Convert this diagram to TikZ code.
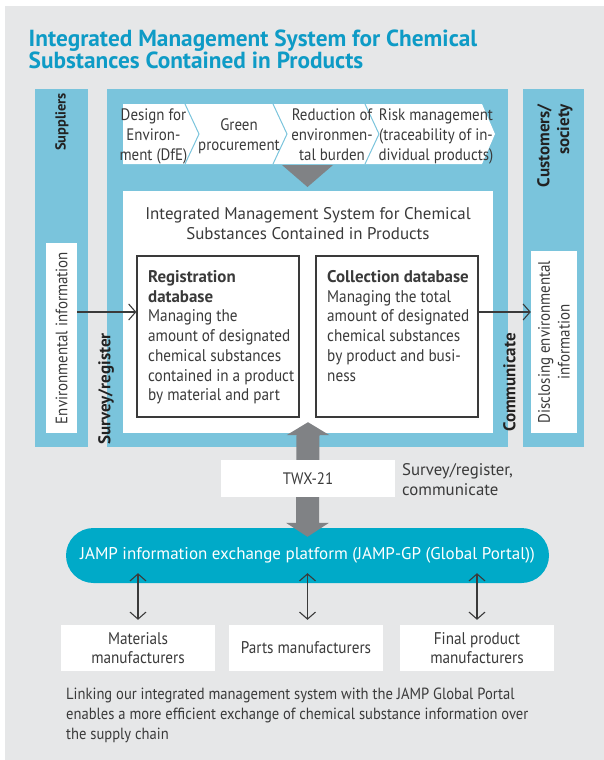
\documentclass[tikz,border=0pt]{standalone}
\usepackage{fontspec}
\setmainfont{PT Sans}[FakeStretch=0.9]
\newfontfamily\widefont{PT Sans}
\usetikzlibrary{arrows.meta}
\definecolor{bg}{HTML}{E6E7E8}
\definecolor{colblue}{HTML}{7AC4DC}
\definecolor{jampc}{HTML}{00AAC8}
\definecolor{titleblue}{HTML}{0E9BC6}
\definecolor{arrowgray}{HTML}{808285}
\definecolor{txt}{HTML}{3A3A3A}
\definecolor{lbltxt}{HTML}{222222}
\begin{document}
\begin{tikzpicture}[x=1pt,y=-1pt,
  body/.style={font=\fontsize{16.6}{19.7}\selectfont, text=txt, inner sep=0pt},
  boxtext/.style={font=\fontsize{16.9}{19.7}\selectfont, text=txt, inner sep=0pt},
  lbl/.style={font=\widefont\bfseries\fontsize{17}{19.7}\selectfont, text=lbltxt, inner sep=0pt, rotate=90},
  wbox/.style={fill=white, inner sep=0pt},
  dbox/.style={draw=txt, line width=1.2pt, fill=white, inner sep=0pt},
  sepline/.style={draw=colblue, line width=1pt},
  arr/.style={draw=txt, line width=1.1pt, -{Straight Barb[length=7pt,width=16pt]}},
  darr/.style={draw=txt, line width=1.1pt, {Straight Barb[length=7pt,width=16pt]}-{Straight Barb[length=7pt,width=16pt]}},
  jampbox/.style={fill=jampc, rounded corners=27.5pt, minimum width=483pt, minimum height=55pt, text=white, font=\widefont\fontsize{17}{20}\selectfont, inner sep=0pt}
]
\useasboundingbox (0,0) rectangle (604,760);
\fill[white] (0,0) rectangle (604,760);
\fill[bg] (4.5,6) rectangle (604,760);

% title
\node[anchor=north west, align=left, inner sep=0pt, text=titleblue, font=\widefont\bfseries\fontsize{23.3}{22}\selectfont] (title) at (28.5,30) {Integrated Management System for Chemical\\Substances Contained in Products};

% columns
\fill[colblue] (35,89) rectangle (88,447);
\fill[colblue] (107,89) rectangle (508,447);
\fill[colblue] (523,89) rectangle (584,447);

% chevron strip
\fill[white] (123,104) -- (482,104) -- (495,134) -- (482,164) -- (123,164) -- cycle;
\draw[sepline] (185,104) -- (199,134) -- (185,164);
\draw[sepline] (273,104) -- (287,134) -- (273,164);
\draw[sepline] (365,104) -- (379,134) -- (365,164);
\node[body, align=center, anchor=north] (c1) at (153.5,109) {Design for\\Environ-\\ment (DfE)};
\node[body, align=center, anchor=north] (c2) at (239,118.5) {Green\\procurement};
\node[body, align=center, anchor=north] (c3) at (332,109) {Reduction of\\environmen-\\tal burden};
\node[body, align=center, anchor=north] (c4) at (436,109) {Risk management\\(traceability of in-\\dividual products)};
\fill[arrowgray] (282,165) -- (333,165) -- (307.5,187) -- cycle;

% central system box
\node[wbox, minimum width=370pt, minimum height=242pt] (ims) at (308,312) {};
\node[align=center, anchor=north, inner sep=0pt, text=txt, font=\widefont\fontsize{16.9}{20}\selectfont] (imstitle) at (308,207) {Integrated Management System for Chemical\\Substances Contained in Products};
\node[dbox, minimum width=162pt, minimum height=161pt] (reg) at (218,336.5) {};
\node[dbox, minimum width=162pt, minimum height=161pt] (col) at (397,336.5) {};
\node[boxtext, align=left, anchor=north west] (regtxt) at (148,270.3) {{\widefont\bfseries Registration}\\{\widefont\bfseries database}\\Managing the\\amount of designated\\chemical substances\\contained in a product\\by material and part};
\node[boxtext, align=left, anchor=north west] (coltxt) at (327,270.3) {{\widefont\bfseries Collection database}\\Managing the total\\amount of designated\\chemical substances\\by product and busi-\\ness};

% side boxes
\node[wbox, body, rotate=90, minimum width=190pt, minimum height=31pt] (env) at (61.5,338) {Environmental information};
\node[wbox, body, rotate=90, align=center, minimum width=182pt, minimum height=46pt] (disc) at (554,342) {Disclosing environmental\\information};

% vertical labels
\node[lbl, font=\widefont\bfseries\fontsize{14.5}{17}\selectfont] (sup) at (62,122) {Suppliers};
\node[lbl, align=right, anchor=east] (cust) at (555,104) {Customers/\\society};
\node[lbl] (surv) at (106,389) {Survey/register};
\node[lbl] (comm) at (509.5,382.5) {Communicate};

% horizontal arrows
\coordinate (ya) at (0,312);
\draw[arr] (env.south |- ya) -- (reg.west |- ya);
\draw[arr] (col.east |- ya) -- (disc.north |- ya);

% JAMP platform
\node[jampbox] (jamp) at (307.5,555.5) {JAMP information exchange platform (JAMP-GP (Global Portal))};

% big double arrow
\coordinate (bt) at ([yshift=11pt]ims.south);
\coordinate (bb) at ([yshift=-9pt]jamp.north);
\fill[arrowgray] (bt) -- ([xshift=21.5pt,yshift=-13pt]bt) -- ([xshift=11.5pt,yshift=-13pt]bt)
  -- ([xshift=11.5pt,yshift=14pt]bb) -- ([xshift=21.5pt,yshift=14pt]bb) -- (bb)
  -- ([xshift=-21.5pt,yshift=14pt]bb) -- ([xshift=-11.5pt,yshift=14pt]bb)
  -- ([xshift=-11.5pt,yshift=-13pt]bt) -- ([xshift=-21.5pt,yshift=-13pt]bt) -- cycle;

\node[wbox, body, minimum width=174pt, minimum height=37pt] (twx) at (308,478.5) {TWX-21};
\node[align=left, anchor=north west, inner sep=0pt, text=txt, font=\widefont\fontsize{16.8}{20}\selectfont] (srcom) at (402,463) {Survey/register,\\communicate};

% manufacturers
\node[wbox, boxtext, align=center, minimum width=154pt, minimum height=46pt] (mat) at (138,648) {Materials\\manufacturers};
\node[wbox, boxtext, align=center, minimum width=154pt, minimum height=46pt] (parts) at (306,648) {Parts manufacturers};
\node[wbox, boxtext, align=center, minimum width=154pt, minimum height=46pt] (final) at (477,648) {Final product\\manufacturers};

\coordinate (jb) at ([yshift=10pt]jamp.south);
\draw[darr] (mat.north |- jb) -- ([yshift=5pt]mat.north);
\draw[darr] (jamp.south |- jb) -- ([yshift=5pt]parts.north -| jamp.south);
\draw[darr] (final.north |- jb) -- ([yshift=5pt]final.north);

% footer
\node[align=left, anchor=north west, inner sep=0pt, text=txt, font=\fontsize{16.2}{19.7}\selectfont] (foot) at (66,688) {Linking our integrated management system with the JAMP Global Portal\\enables a more efficient exchange of chemical substance information over\\the supply chain};
\end{tikzpicture}
\end{document}
